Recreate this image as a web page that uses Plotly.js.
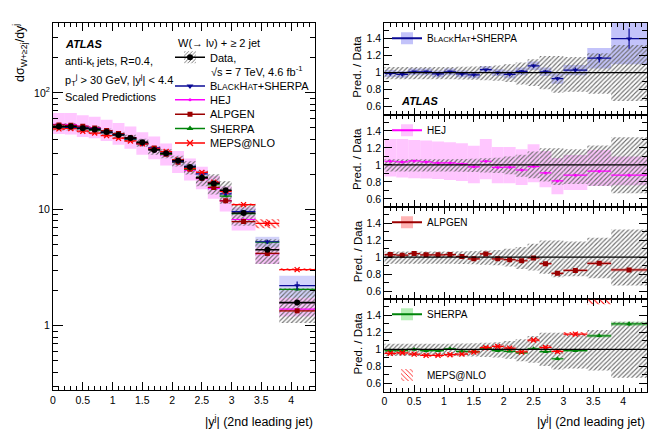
<!DOCTYPE html>
<html><head><meta charset="utf-8">
<script src="https://cdn.plot.ly/plotly-3.0.1.min.js"></script>
<style>html,body{margin:0;padding:0;background:#fff}</style>
</head><body>
<div id="chart" style="width:664px;height:434px"></div>
<script>
// ---------------- data ----------------
const binLo = [0,0.2,0.4,0.6,0.8,1.0,1.2,1.4,1.6,1.8,2.0,2.2,2.4,2.6,2.8,3.0,3.4,3.8];
const binHi = [0.2,0.4,0.6,0.8,1.0,1.2,1.4,1.6,1.8,2.0,2.2,2.4,2.6,2.8,3.0,3.4,3.8,4.4];

const dataXsec   = [51.5,51.5,49.6,48.6,46.2,43.5,40.9,37.6,32.4,30.3,26.2,23.1,18.7,16.7,14.6,9.3,4.5,1.58];
const dataStat   = [0.01,0.01,0.01,0.01,0.01,0.01,0.01,0.012,0.012,0.013,0.014,0.015,0.02,0.02,0.025,0.025,0.04,0.05];
const dataSystUp = [0.067,0.067,0.067,0.067,0.067,0.068,0.07,0.072,0.078,0.085,0.10,0.12,0.157,0.196,0.196,0.185,0.228,0.326];
const dataSystDn = [0.078,0.078,0.078,0.078,0.078,0.078,0.08,0.083,0.09,0.095,0.11,0.14,0.157,0.196,0.235,0.224,0.247,0.333];

const ratioBH  = [0.99,0.98,1.01,1.01,0.985,1.01,0.985,0.975,1.035,1.0,0.98,1.015,1.08,1.01,0.93,1.03,1.17,1.40];
const statBH   = [0.01,0.01,0.01,0.01,0.01,0.01,0.01,0.01,0.012,0.012,0.012,0.015,0.02,0.02,0.02,0.03,0.05,0.12];
const bandBH   = [0.04,0.04,0.04,0.04,0.04,0.04,0.04,0.04,0.04,0.04,0.045,0.045,0.05,0.05,0.06,0.06,0.12,0.30];

const ratioHEJ  = [1.043,1.035,1.047,1.035,1.023,1.023,1.012,0.977,1.043,0.97,0.973,0.94,0.98,0.906,0.812,0.879,0.926,0.879];
const statHEJ   = [0.005,0.005,0.005,0.005,0.005,0.005,0.005,0.006,0.006,0.006,0.007,0.008,0.008,0.01,0.01,0.01,0.012,0.012];
const bandHEJHi = [1.306,1.306,1.294,1.286,1.275,1.267,1.255,1.224,1.306,1.212,1.212,1.185,1.243,1.165,1.08,1.118,1.176,1.10];
const bandHEJLo = [0.863,0.851,0.843,0.84,0.835,0.824,0.812,0.784,0.831,0.784,0.784,0.765,0.796,0.737,0.655,0.706,0.753,0.76];

const ratioALP = [1.03,1.023,1.042,1.027,1.027,1.03,1.008,0.98,1.038,0.98,0.97,0.958,0.99,0.924,0.81,0.844,0.928,0.85];
const statALP  = [0.008,0.008,0.008,0.008,0.008,0.008,0.008,0.008,0.009,0.009,0.01,0.01,0.012,0.012,0.015,0.015,0.02,0.02];
const bandALP  = [0.012,0.012,0.012,0.012,0.012,0.012,0.012,0.012,0.013,0.013,0.014,0.014,0.015,0.015,0.016,0.016,0.02,0.02];

const ratioSH = [0.985,0.985,1.0,0.985,0.985,1.008,0.977,0.973,1.016,0.985,0.977,0.96,1.008,0.973,0.89,0.985,1.16,1.30];
const statSH  = [0.008,0.008,0.008,0.008,0.008,0.008,0.008,0.008,0.009,0.009,0.01,0.01,0.012,0.012,0.015,0.015,0.015,0.025];
const bandSH  = [0.012,0.012,0.012,0.012,0.012,0.012,0.012,0.012,0.013,0.013,0.014,0.014,0.015,0.015,0.016,0.016,0.02,0.025];

const ratioMEPS = [0.953,0.96,0.945,0.93,0.93,0.938,0.945,0.97,1.02,1.035,1.015,0.97,1.11,1.023,0.977,1.18,1.68,1.92];
const statMEPS  = [0.008,0.008,0.008,0.008,0.008,0.008,0.008,0.008,0.009,0.009,0.01,0.01,0.012,0.012,0.015,0.015,0.02,0.02];
const bandMEPS  = [0.02,0.02,0.02,0.02,0.02,0.02,0.02,0.02,0.02,0.02,0.02,0.02,0.025,0.025,0.025,0.025,0.15,0.05];

const yTickVals = [1,10,100];
const yTickText = ['1','10','10<sup>2</sup>'];
const yMinorVals = [0.3,0.4,0.5,0.6,0.7,0.8,0.9,2,3,4,5,6,7,8,9,20,30,40,50,60,70,80,90,200,300,400];
const rTickVals = [0.6,0.8,1,1.2,1.4];

// ---------------- helpers ----------------
const W = 664, H = 434;
const px = v => v / W;
const py = v => 1 - v / H;
const FONT = '"Liberation Sans", Arial, Helvetica, sans-serif';

const centers = binLo.map((lo,i) => (lo + binHi[i]) / 2);
const halfW   = binLo.map((lo,i) => (binHi[i] - lo) / 2);
const widths  = binLo.map((lo,i) => binHi[i] - lo);
const mul = (a,b) => a.map((v,i) => v * b[i]);

const COL = {bh:'#0a0a96', hej:'#ff00ff', alp:'#9b0000', sh:'#00840a', meps:'#ff0000'};
const BANDCOL = {bh:'#c3c3fa', hej:'#ffc6ff', alp:'#ffb4b4', sh:'#b8f0b8'};

const traces = [];
function bandTrace(xa, ya, lo, hi, marker, opacity) {
  traces.push({type:'bar', x:centers, base:lo, y:hi.map((h,i)=>h-lo[i]), width:widths,
    xaxis:xa, yaxis:ya, marker:marker, opacity:opacity||1, showlegend:false, hoverinfo:'skip'});
}
function solid(c){ return {color:c, line:{width:0}}; }
function hatch(fg, shape, size, sol){ return {color:'rgba(0,0,0,0)', line:{width:0},
  pattern:{shape:shape, fgcolor:fg, bgcolor:'rgba(0,0,0,0)', size:size, solidity:sol, fillmode:'replace'}}; }
const GRAYHATCH = hatch('#6a6a6a','/',3.2,0.35);
const REDHATCH = hatch('#ff0000','\\',4,0.25);

function ptsTrace(xa, ya, y, err, color, symbol, size, thick) {
  const thin = symbol.indexOf('thin') >= 0;
  traces.push({type:'scatter', mode:'markers', x:centers, y:y, xaxis:xa, yaxis:ya,
    marker:{color:color, symbol:symbol, size:size, line:{color:color, width: thin ? 1.3 : 0}},
    error_x:{type:'data', array:halfW, color:color, thickness:thick, width:0},
    error_y:{type:'data', array:err, color:color, thickness:thick, width:0},
    showlegend:false, hoverinfo:'skip'});
}

// ---------------- main panel ----------------
const predBH = mul(dataXsec, ratioBH), predHEJ = mul(dataXsec, ratioHEJ), predALP = mul(dataXsec, ratioALP),
      predSH = mul(dataXsec, ratioSH), predMEPS = mul(dataXsec, ratioMEPS);

bandTrace('x','y', mul(dataXsec,bandHEJLo), mul(dataXsec,bandHEJHi), solid(BANDCOL.hej));
bandTrace('x','y', dataXsec.map((d,i)=>d*(ratioBH[i]-bandBH[i])), dataXsec.map((d,i)=>d*(ratioBH[i]+bandBH[i])), solid(BANDCOL.bh), 0.75);
bandTrace('x','y', dataXsec.map((d,i)=>d*(ratioALP[i]-bandALP[i])), dataXsec.map((d,i)=>d*(ratioALP[i]+bandALP[i])), solid(BANDCOL.alp), 0.8);
bandTrace('x','y', dataXsec.map((d,i)=>d*(ratioSH[i]-bandSH[i])), dataXsec.map((d,i)=>d*(ratioSH[i]+bandSH[i])), solid(BANDCOL.sh), 0.8);
bandTrace('x','y', dataXsec.map((d,i)=>d*(1-dataSystDn[i])), dataXsec.map((d,i)=>d*(1+dataSystUp[i])), GRAYHATCH);
bandTrace('x','y', dataXsec.map((d,i)=>d*(ratioMEPS[i]-bandMEPS[i])), dataXsec.map((d,i)=>d*(ratioMEPS[i]+bandMEPS[i])), REDHATCH);

ptsTrace('x','y', predHEJ, mul(dataXsec,statHEJ), COL.hej, 'circle', 3, 1.2);
ptsTrace('x','y', predALP, mul(dataXsec,statALP), COL.alp, 'square', 5, 1.2);
ptsTrace('x','y', predSH, mul(dataXsec,statSH), COL.sh, 'triangle-up', 5, 1.2);
ptsTrace('x','y', predBH, mul(dataXsec,statBH), COL.bh, 'triangle-down', 5, 1.2);
ptsTrace('x','y', predMEPS, mul(dataXsec,statMEPS), COL.meps, 'x-thin', 5, 1.2);
ptsTrace('x','y', dataXsec, mul(dataXsec,dataStat), '#000000', 'circle', 6, 1.6);

// ---------------- ratio panels ----------------
const dataLoR = dataSystDn.map(e => 1 - e), dataHiR = dataSystUp.map(e => 1 + e);
const lo = (r,b) => r.map((v,i)=>v-b[i]), hi = (r,b) => r.map((v,i)=>v+b[i]);

bandTrace('x2','y2', lo(ratioBH,bandBH), hi(ratioBH,bandBH), solid(BANDCOL.bh));
bandTrace('x2','y2', dataLoR, dataHiR, GRAYHATCH);
ptsTrace('x2','y2', ratioBH, statBH, COL.bh, 'triangle-down', 5, 1.2);

bandTrace('x3','y3', bandHEJLo, bandHEJHi, solid(BANDCOL.hej));
bandTrace('x3','y3', dataLoR, dataHiR, GRAYHATCH);
ptsTrace('x3','y3', ratioHEJ, statHEJ, COL.hej, 'circle', 3, 1.2);

bandTrace('x4','y4', lo(ratioALP,bandALP), hi(ratioALP,bandALP), solid(BANDCOL.alp));
bandTrace('x4','y4', dataLoR, dataHiR, GRAYHATCH);
ptsTrace('x4','y4', ratioALP, statALP, COL.alp, 'square', 5, 1.2);

bandTrace('x5','y5', lo(ratioSH,bandSH), hi(ratioSH,bandSH), solid(BANDCOL.sh));
bandTrace('x5','y5', lo(ratioMEPS,bandMEPS), hi(ratioMEPS,bandMEPS), REDHATCH);
bandTrace('x5','y5', dataLoR, dataHiR, GRAYHATCH);
ptsTrace('x5','y5', ratioSH, statSH, COL.sh, 'triangle-up', 5, 1.2);
ptsTrace('x5','y5', ratioMEPS, statMEPS, COL.meps, 'x-thin', 5, 1.2);

// ---------------- legends (symbol-only dummy traces, no data) ----------------
const legends = {};
let legN = 0;
function newLegend(xc, yc, size) {
  legN++;
  const id = legN === 1 ? 'legend' : 'legend' + legN;
  legends[id] = {x:px(xc-20), y:py(yc), xanchor:'left', yanchor:'middle', bgcolor:'rgba(0,0,0,0)',
    borderwidth:0, font:{family:FONT, size:size, color:'black'}, itemwidth:30,
    itemclick:false, itemdoubleclick:false};
  return id;
}
function legBox(xc, yc, size, name, marker) {
  traces.push({type:'bar', x:[null], y:[null], name:name, legend:newLegend(xc,yc,size),
    marker:marker, showlegend:true, hoverinfo:'skip'});
}
function legLine(xc, yc, size, name, color, symbol, msize, lw) {
  const thin = symbol && symbol.indexOf('thin') >= 0;
  traces.push({type:'scatter', mode: symbol ? 'lines+markers' : 'lines', x:[null], y:[null], name:name,
    legend:newLegend(xc,yc,size), line:{color:color, width:lw||1.5},
    marker:{color:color, symbol:symbol||'circle', size:msize||6, line:{color:color, width: thin?1.3:0}},
    showlegend:true, hoverinfo:'skip'});
}
const BHNAME = (fs) => 'B<span style="font-size:' + fs + 'px">LACK</span>H<span style="font-size:' + fs + 'px">AT</span>+SHERPA';

// main legend
legBox(190, 57.3, 11, 'Data,', GRAYHATCH);
legLine(190, 57.3, 11, ' ', '#000000', 'circle', 6);
legLine(190, 86, 11, BHNAME(8.5), COL.bh, 'triangle-down', 6);
legLine(190, 99.8, 11, 'HEJ', COL.hej, 'circle', 3);
legLine(190, 114.2, 11, 'ALPGEN', COL.alp, 'square', 5);
legLine(190, 128.5, 11, 'SHERPA', COL.sh, 'triangle-up', 6);
legLine(190, 143, 11, 'MEPS@NLO', COL.meps, 'x-thin', 6);
// ratio legends
const RX = 407;
legBox(RX, 38.3, 10, BHNAME(7.8), solid(BANDCOL.bh));
legLine(RX, 38.3, 10, ' ', COL.bh, null, null, 2);
legBox(RX, 130.3, 10, 'HEJ', solid(BANDCOL.hej));
legLine(RX, 130.3, 10, ' ', COL.hej, null, null, 2);
legBox(RX, 222.3, 10, 'ALPGEN', solid(BANDCOL.alp));
legLine(RX, 222.3, 10, ' ', COL.alp, null, null, 2);
legBox(RX, 314.3, 10, 'SHERPA', solid(BANDCOL.sh));
legLine(RX, 314.3, 10, ' ', COL.sh, null, null, 2);
legBox(RX, 375, 10, 'MEPS@NLO', REDHATCH);

// ---------------- layout ----------------
const axisBase = {showline:true, linecolor:'black', linewidth:1, mirror:'allticks', ticks:'inside',
  tickcolor:'black', tickwidth:1, showgrid:false, zeroline:false, fixedrange:true,
  tickfont:{family:FONT, size:10.5, color:'black'}};
const xMinor = {dtick:0.1, tick0:0, ticklen:4, ticks:'inside', tickcolor:'black', tickwidth:1};

const layout = {
  width:W, height:H, margin:{l:0,r:0,t:0,b:0}, paper_bgcolor:'white', plot_bgcolor:'white',
  barmode:'overlay', showlegend:true, font:{family:FONT, color:'black'},
  xaxis: Object.assign({}, axisBase, {domain:[px(53), px(315)], range:[0,4.4], tick0:0, dtick:0.5, ticklen:8,
    minor:xMinor, anchor:'y'}),
  yaxis: Object.assign({}, axisBase, {type:'log', domain:[py(390), py(22.7)], range:[-0.552, 2.603],
    tickmode:'array', tickvals:yTickVals, ticktext:yTickText, ticklen:10, anchor:'x',
    minor:{tickmode:'array', tickvals:yMinorVals, ticklen:5, ticks:'inside', tickcolor:'black', tickwidth:1}}),
  shapes:[], annotations:[]
};
Object.assign(layout, legends);

const rTop = 22.5, rH = 92.25;
for (let k = 0; k < 4; k++) {
  const n = k + 2;
  const top = rTop + rH*k, bot = top + rH;
  layout['xaxis'+n] = Object.assign({}, axisBase, {domain:[px(384.3), px(647)], range:[0,4.4], tick0:0, dtick:0.5,
    ticklen:7, minor:xMinor, anchor:'y'+n, showticklabels: k === 3});
  layout['yaxis'+n] = Object.assign({}, axisBase, {domain:[py(bot), py(top)], range:[0.505,1.59],
    tickmode:'array', tickvals:rTickVals, ticklen:8, anchor:'x'+n,
    minor:{dtick:0.1, tick0:0, ticklen:5, ticks:'inside', tickcolor:'black', tickwidth:1}});
  layout.shapes.push({type:'line', xref:'x'+n+' domain', x0:0, x1:1, yref:'y'+n, y0:1, y1:1,
    line:{color:'black', width:1.2}, layer:'above'});
  layout.annotations.push({xref:'paper', yref:'paper', x:px(357.5), y:py((top+bot)/2 - 1.5),
    text:'Pred. / Data', textangle:-90, showarrow:false, xanchor:'center', yanchor:'middle',
    font:{family:FONT, size:11.5, color:'black'}});
}

function ann(x, y, text, opts) {
  layout.annotations.push(Object.assign({xref:'paper', yref:'paper', x:px(x), y:py(y), text:text,
    showarrow:false, xanchor:'left', yanchor:'middle', font:{family:FONT, size:11, color:'black'}}, opts||{}));
}
ann(63, 43.5, '<b><i>ATLAS</i></b>');
ann(63, 62, 'anti-k<sub>t</sub> jets, R=0.4,');
ann(63, 79.5, 'p<sub>T</sub><sup>j</sup> &gt; 30 GeV, |y<sup>j</sup>| &lt; 4.4');
ann(63, 96.5, 'Scaled Predictions');
ann(176, 42.5, 'W(→ lν) + ≥ 2 jet');
ann(209, 70.7, '√s = 7 TeV, 4.6 fb<sup>-1</sup>');
ann(399, 100.7, '<b><i>ATLAS</i></b>');
ann(315, 421, '|y<sup>j</sup>| (2nd leading jet)', {xanchor:'right', font:{family:FONT, size:12.5, color:'black'}});
ann(647, 421, '|y<sup>j</sup>| (2nd leading jet)', {xanchor:'right', font:{family:FONT, size:12.5, color:'black'}});
ann(20, 53, 'dσ<sub>W+≥2j</sub>/dy<sup>j</sup>', {xanchor:'center', textangle:-90, font:{family:FONT, size:12.5, color:'black'}});

Plotly.newPlot('chart', traces, layout, {staticPlot:true, displayModeBar:false});
</script>
</body></html>
